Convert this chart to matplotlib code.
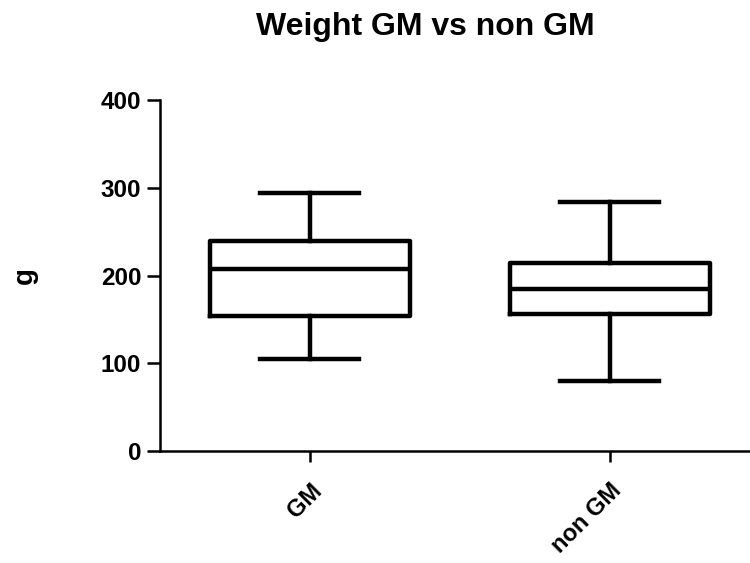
import matplotlib
matplotlib.use("Agg")
import matplotlib.pyplot as plt

groups = ["GM", "non GM"]
whisker_low = [104.5, 80]
q1 = [154, 156]
medians = [207, 184.5]
q3 = [239.5, 214]
whisker_high = [294, 284]

plt.rcParams["font.family"] = ["Liberation Sans", "DejaVu Sans"]
plt.rcParams["font.weight"] = "bold"

fig = plt.figure(figsize=(7.5, 5.63), dpi=100)
ax = fig.add_axes([0.2133, 0.199, 0.7867, 0.623])

stats = []
for i, name in enumerate(groups):
    stats.append({
        "label": name,
        "whislo": whisker_low[i],
        "q1": q1[i],
        "med": medians[i],
        "q3": q3[i],
        "whishi": whisker_high[i],
        "fliers": [],
    })

lw = 3.2
ax.bxp(stats, positions=[0, 1], widths=0.667, capwidths=0.33, showfliers=False,
       boxprops=dict(color="black", linewidth=lw),
       medianprops=dict(color="black", linewidth=lw),
       whiskerprops=dict(color="black", linewidth=lw),
       capprops=dict(color="black", linewidth=lw))

ax.set_xlim(-0.5, 1.467)
ax.set_ylim(0, 400)
ax.set_yticks([0, 100, 200, 300, 400])
ax.set_xticks([0, 1])
ax.set_xticklabels(groups, rotation=45, ha="right", va="top",
                   rotation_mode="anchor", fontsize=17, fontweight="bold")
for lab in ax.get_yticklabels():
    lab.set_fontsize(17.5)
    lab.set_fontweight("bold")

for side in ["top", "right"]:
    ax.spines[side].set_visible(False)
for side in ["left", "bottom"]:
    ax.spines[side].set_linewidth(1.8)
ax.tick_params(axis="both", width=1.8, direction="out")
ax.tick_params(axis="y", length=9.5, pad=4)
ax.tick_params(axis="x", length=8, pad=12)

ax.set_ylabel("g", fontsize=20, fontweight="bold", labelpad=45)
fig.text(0.567, 0.952, "Weight GM vs non GM", ha="center", va="center",
         fontsize=23, fontweight="bold")

fig.savefig("out.png", dpi=100)
